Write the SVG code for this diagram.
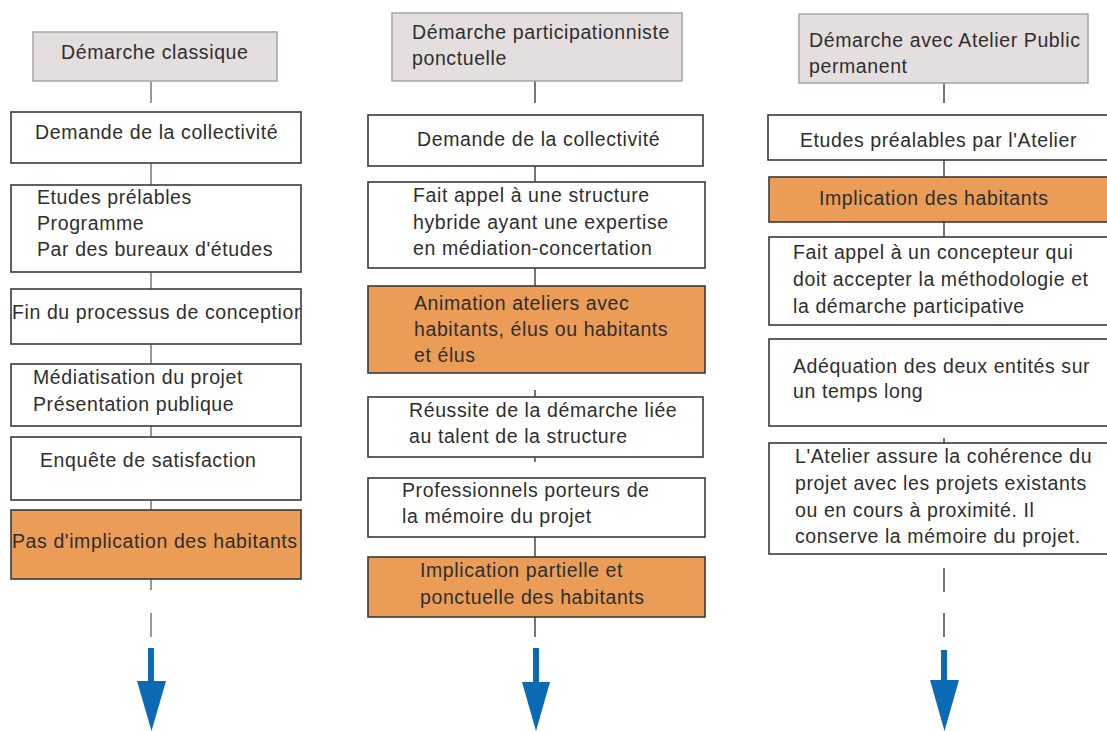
<svg xmlns="http://www.w3.org/2000/svg" width="1107" height="731" viewBox="0 0 1107 731">
<style>
text{font-family:"Liberation Sans",Arial,sans-serif;font-size:19.5px;fill:#2e2e2e;letter-spacing:0.6px}
.title{fill:#e4dede;stroke:#a5a5a5;stroke-width:1.5}
.box{fill:#fff;stroke:#3a3a3a;stroke-width:1.6}
.hot{fill:#eb9d58;stroke:#3a3a3a;stroke-width:1.6}
.c1{stroke:#999;stroke-width:2;fill:none}
.c2{stroke:#555;stroke-width:1.6;fill:none}
.arr{fill:#0a6ab4}
</style>
<defs>
<clipPath id="clipFin"><rect x="11" y="289" width="290" height="55"/></clipPath>
</defs>
<rect width="1107" height="731" fill="#fff"/>

<g id="connectors">
<path class="c1" d="M151 81V103M151 163V185M151 272V289M151 344V364M151 426V437M151 500V510M151 579V590M151 613V637"/>
<path class="c2" d="M535 81V103M535 166V182M535 268V286M535 390V397M535 457V462M535 537V557M535 617V637"/>
<path class="c2" d="M944 83V103M944 160V177M944 222V237M944 438V443M944 568V592M944 613V637"/>
<path class="arr" d="M148 648H154V681H166L151.5 731L137 681H148Z"/>
<path class="arr" d="M533 648H539V682H550L536 731L522 682H533Z"/>
<path class="arr" d="M941 650H947V680H959L944.5 731L930 680H941Z"/>
</g>

<g id="col1-title"><rect class="title" x="33" y="32" width="244" height="49"/><text x="61" y="59">Démarche classique</text></g>
<g id="col1-n1"><rect class="box" x="11" y="112" width="290" height="51"/><text x="35" y="139">Demande de la collectivité</text></g>
<g id="col1-n2"><rect class="box" x="11" y="185" width="290" height="87"/><text x="37" y="204">Etudes prélables</text><text x="37" y="230">Programme</text><text x="37" y="256">Par des bureaux d'études</text></g>
<g id="col1-n3"><rect class="box" x="11" y="289" width="290" height="55"/><text x="12" y="319" clip-path="url(#clipFin)">Fin du processus de conception</text></g>
<g id="col1-n4"><rect class="box" x="11" y="364" width="290" height="62"/><text x="33" y="384">Médiatisation du projet</text><text x="33" y="411">Présentation publique</text></g>
<g id="col1-n5"><rect class="box" x="11" y="437" width="290" height="63"/><text x="40" y="467">Enquête de satisfaction</text></g>
<g id="col1-n6"><rect class="hot" x="11" y="510" width="290" height="69"/><text x="12" y="548">Pas d'implication des habitants</text></g>

<g id="col2-title"><rect class="title" x="392" y="13" width="290" height="68"/><text x="412" y="39">Démarche participationniste</text><text x="412" y="65">ponctuelle</text></g>
<g id="col2-n1"><rect class="box" x="368" y="115" width="335" height="51"/><text x="417" y="146">Demande de la collectivité</text></g>
<g id="col2-n2"><rect class="box" x="368" y="182" width="337" height="86"/><text x="413" y="202">Fait appel à une structure</text><text x="413" y="229">hybride ayant une expertise</text><text x="413" y="255">en médiation-concertation</text></g>
<g id="col2-n3"><rect class="hot" x="368" y="286" width="337" height="87"/><text x="414" y="310">Animation ateliers avec</text><text x="414" y="336">habitants, élus ou habitants</text><text x="414" y="362">et élus</text></g>
<g id="col2-n4"><rect class="box" x="368" y="397" width="335" height="60"/><text x="409" y="417">Réussite de la démarche liée</text><text x="409" y="443">au talent de la structure</text></g>
<g id="col2-n5"><rect class="box" x="368" y="478" width="337" height="59"/><text x="402" y="497">Professionnels porteurs de</text><text x="402" y="523">la mémoire du projet</text></g>
<g id="col2-n6"><rect class="hot" x="368" y="557" width="337" height="60"/><text x="420" y="577">Implication partielle et</text><text x="420" y="604">ponctuelle des habitants</text></g>

<g id="col3-title"><rect class="title" x="799" y="14" width="289" height="69"/><text x="809" y="47">Démarche avec Atelier Public</text><text x="809" y="73">permanent</text></g>
<g id="col3-n1"><rect class="box" x="768" y="115" width="345" height="45"/><text x="800" y="147">Etudes préalables par l'Atelier</text></g>
<g id="col3-n2"><rect class="hot" x="769" y="177" width="344" height="45"/><text x="819" y="205">Implication des habitants</text></g>
<g id="col3-n3"><rect class="box" x="769" y="237" width="344" height="88"/><text x="793" y="259">Fait appel à un concepteur qui</text><text x="793" y="286">doit accepter la méthodologie et</text><text x="793" y="313">la démarche participative</text></g>
<g id="col3-n4"><rect class="box" x="769" y="339" width="344" height="87"/><text x="793" y="373">Adéquation des deux entités sur</text><text x="793" y="398">un temps long</text></g>
<g id="col3-n5"><rect class="box" x="769" y="443" width="344" height="111"/><text x="795" y="463">L'Atelier assure la cohérence du</text><text x="795" y="490">projet avec les projets existants</text><text x="795" y="517">ou en cours à proximité. Il</text><text x="795" y="543">conserve la mémoire du projet.</text></g>
</svg>
